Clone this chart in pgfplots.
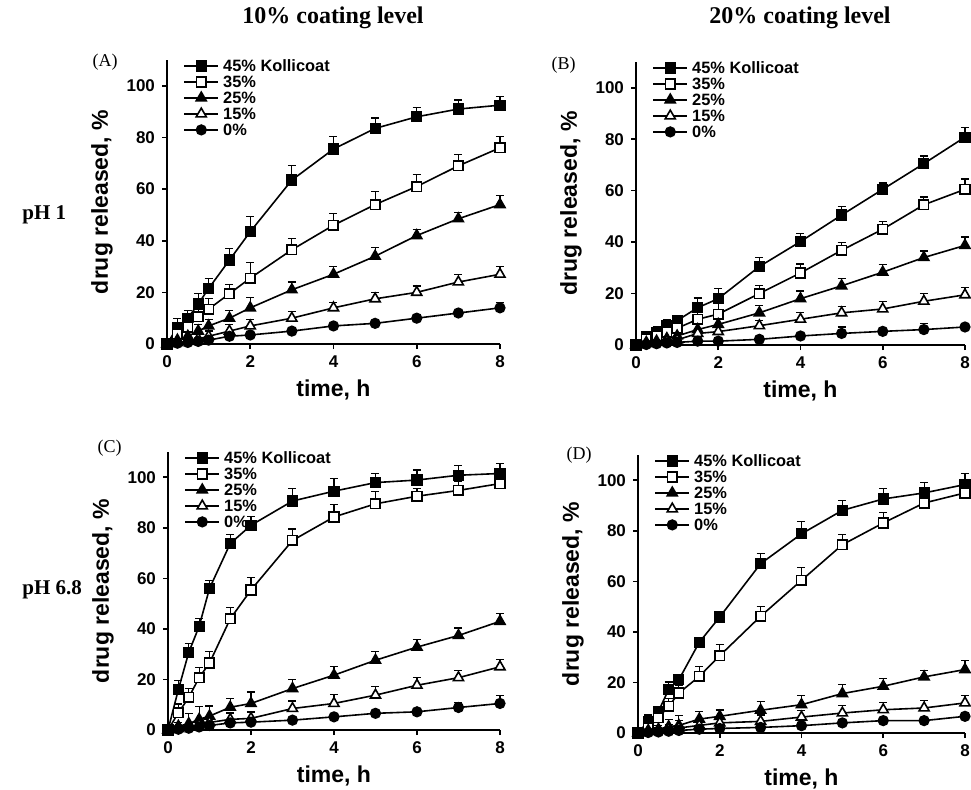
\documentclass[border=0pt]{standalone}
\usepackage{pgfplots}
\usepackage{pgfplotstable}
\pgfplotsset{compat=1.18}
\usepackage{fontspec}
\setmainfont{Liberation Serif}
\newfontfamily\arial{Liberation Sans}

% time (h), mean and error for 45, 35, 25, 15 and 0 % Kollicoat
\pgfplotstableread{
t m45 e45 m35 e35 m25 e25 m15 e15 m0 e0
0 0 0 0 0 0 0 0 0 0 0
0.25 6.5 3.5 4 2.5 1.5 1.5 0.5 1 0.3 0.5
0.5 10 3 6.5 3 3 2 1 1.5 0.6 0.8
0.75 15.5 4 10.5 3 5 2.5 2 2 1 1
1 21.5 4 13.5 4 7 2.5 3 2 1.5 1
1.5 32.5 4.5 19.5 3.5 10 3 5 2.5 3 1.2
2 43.5 6 25.5 6 14 4 7 2.5 3.5 1.2
3 63.5 5.5 36.5 4.5 21 3 10 2.5 5 1
4 75.5 5 46 4.5 27 3 14 2 7 1
5 83.5 4 54 5 34 3.5 17.5 2.5 8 1
6 88 3.5 61 4.5 42 2.5 20 2.5 10 1
7 91 3.5 69 4.5 48.5 2.5 24 3 12 1
8 92.5 3.5 76 4.5 54 3.5 27 3 14 2
}\dataA
\pgfplotstableread{
t m45 e45 m35 e35 m25 e25 m15 e15 m0 e0
0 0 0 0 0 0 0 0 0 0 0
0.25 3.2 1.5 2.5 1.5 1 1 0.5 0.5 0.2 0.3
0.5 5 2 3.5 2 1.5 1 1 1 0.5 0.5
0.75 7.5 2.5 5 2 2.5 1.5 1.5 1 0.8 0.5
1 9.5 2 6.5 2.5 3.5 1.5 2 1.5 1 0.5
1.5 14.5 3.8 10 3.5 6 2 4.5 1.5 1.5 1
2 18 4 12 4 8 2.5 5.2 2 1.5 1
3 30.5 3.5 20 3 12.5 3 7.5 2 2.2 1
4 40.2 3 28 3.5 18 3 10 2.5 3.5 1
5 50.5 3.2 36.8 3 23 3 12.5 2.5 4.5 2.5
6 60.5 2.5 45 3 28.3 3 14 3 5.3 1
7 70.5 3 54.5 3 34 2.5 17 3 6 2.5
8 80.8 3.8 60.5 4 38.7 3.3 19.5 3 7 1
}\dataB
\pgfplotstableread{
t m45 e45 m35 e35 m25 e25 m15 e15 m0 e0
0 0 0 0 0 0 0 0 0 0 0
0.25 16 3.5 6.8 3.5 1.5 1.5 0.5 1 0.3 0.5
0.5 30.7 3.5 12.9 3.5 2.5 4 1.2 1.5 0.7 0.7
0.75 41 3 20.7 4 4.2 5 2 2 1.2 1
1 56 3 26.5 4.5 5.5 4 3 2 1.8 1
1.5 73.8 3.5 44 4.5 9 3.5 4.2 2.5 2.8 1
2 81 3.5 55.4 5 10.5 4.5 4.6 2.5 3.1 1.5
3 90.6 5 75 4.5 16.4 3.5 8.5 3 3.9 1
4 94.5 5 84.3 5 21.7 3.5 10.5 3.5 5.2 1
5 97.9 3.5 89.5 5 27.6 3.5 13.8 3.5 6.6 1
6 98.9 4 92.5 3 32.8 3 17.7 3 7.2 1
7 100.8 4 94.8 3.5 37.4 3 20.7 3 8.9 2
8 101.5 4 97.5 4 43 3 25 3 10.5 3
}\dataC
\pgfplotstableread{
t m45 e45 m35 e35 m25 e25 m15 e15 m0 e0
0 0 0 0 0 0 0 0 0 0 0
0.25 4.6 2.5 2 2 1 1 0.5 0.5 0.2 0.3
0.5 8.6 2 6 2 1.5 1.5 1 1 0.4 0.5
0.75 17.2 3 10.6 3 2.5 3 1.5 2 0.7 0.5
1 21.1 2 15.8 3 3 4 2 3 1 0.5
1.5 35.9 2 22.4 4 5.5 3 3 2.5 1.5 1
2 45.9 2 30.6 4.5 6.6 2.5 4 2 1.8 1
3 67 4 46.2 4 9 3.5 4.6 2.5 2.2 1
4 78.8 5 60.4 5 11.2 3.5 6.3 2.5 2.9 1
5 88.1 4 74.5 4 15.6 3.5 7.9 3 4 1
6 92.6 4 83.1 4 18.5 3 9.2 3 4.9 1
7 95 4 91 3 22.2 2.5 9.9 3 4.9 1
8 98.3 4.5 95 3 25.1 3.5 11.9 3 6.6 1
}\dataD

\pgfplotsset{
  panel/.style={
    scale only axis, axis lines*=left,
    xmin=0, xmax=8, ymin=0, ymax=110,
    xtick={0,2,4,6,8}, ytick={0,20,40,60,80,100},
    tick align=outside, major tick length=2.5pt,
    axis line style={line width=0.8pt},
    every tick/.style={black, line width=0.8pt},
    /pgf/number format/assume math mode=true,
    ticklabel style={font=\arial\bfseries\fontsize{8.5}{10}\selectfont},
    label style={font=\arial\bfseries\fontsize{11.5}{13}\selectfont},
    xlabel={time, h}, ylabel={drug released, \%},
    xlabel style={yshift=1pt},
    clip=false,
    legend cell align=left,
    legend style={at={(axis cs:0,110)}, anchor=north west, xshift=8pt, yshift=0.5pt,
      draw=none, fill=none, inner sep=0pt, row sep=1.5pt,
      nodes={inner ysep=0.25pt, text height=6pt, text depth=0pt},
      font=\arial\bfseries\fontsize{8.2}{9}\selectfont},
  },
  ser/.style={black, line width=0.8pt, mark size=2.4pt,
    error bars/y dir=plus, error bars/y explicit,
    error bars/error mark=-,
    error bars/error bar style={black, line width=0.6pt},
    error bars/error mark options={black, line width=0.6pt, mark size=2pt, rotate=90}},
}

\newcommand{\fiveseries}[1]{%
  \addplot[ser, mark=square*, mark options={solid, fill=black}]
    table[x=t, y=m45, y error=e45]{#1};
  \addlegendentry{45\% Kollicoat}
  \addplot[ser, mark=square*, mark options={solid, fill=white}]
    table[x=t, y=m35, y error=e35]{#1};
  \addlegendentry{35\%}
  \addplot[ser, mark=triangle*, mark size=2.9pt, mark options={solid, fill=black}]
    table[x=t, y=m25, y error=e25]{#1};
  \addlegendentry{25\%}
  \addplot[ser, mark=triangle*, mark size=2.9pt, mark options={solid, fill=white}]
    table[x=t, y=m15, y error=e15]{#1};
  \addlegendentry{15\%}
  \addplot[ser, mark=*, mark options={solid, fill=black}]
    table[x=t, y=m0, y error=e0]{#1};
  \addlegendentry{0\%}
}

\begin{document}
\begin{tikzpicture}
\path[use as bounding box] (0,0) rectangle (485.5pt,394.5pt);

\begin{axis}[panel, at={(83.5pt,222.5pt)}, anchor=south west, width=166.5pt, height=142pt]
\fiveseries{\dataA}
\end{axis}
\begin{axis}[panel, at={(318pt,222pt)}, anchor=south west, width=164.5pt, height=141.5pt]
\fiveseries{\dataB}
\end{axis}
\begin{axis}[panel, at={(84pt,29.5pt)}, anchor=south west, width=166pt, height=139pt]
\fiveseries{\dataC}
\end{axis}
\begin{axis}[panel, at={(319pt,28pt)}, anchor=south west, width=163.5pt, height=139pt]
\fiveseries{\dataD}
\end{axis}

\node[font=\bfseries\fontsize{12}{14}\selectfont] at (166.5pt,385.5pt) {10\% coating level};
\node[font=\bfseries\fontsize{12}{14}\selectfont] at (400pt,385.5pt) {20\% coating level};
\node[font=\bfseries\fontsize{10.5}{12}\selectfont, anchor=west, inner sep=0pt] at (11pt,287pt) {pH 1};
\node[font=\bfseries\fontsize{10.5}{12}\selectfont, anchor=west, inner sep=0pt] at (11pt,99.5pt) {pH 6.8};
\node[font=\fontsize{9}{11}\selectfont, anchor=east, inner sep=0pt] at (59pt,363.5pt) {(A)};
\node[font=\fontsize{9}{11}\selectfont, anchor=east, inner sep=0pt] at (288pt,362pt) {(B)};
\node[font=\fontsize{9}{11}\selectfont, anchor=east, inner sep=0pt] at (61pt,170.5pt) {(C)};
\node[font=\fontsize{9}{11}\selectfont, anchor=east, inner sep=0pt] at (296pt,167pt) {(D)};
\end{tikzpicture}
\end{document}
